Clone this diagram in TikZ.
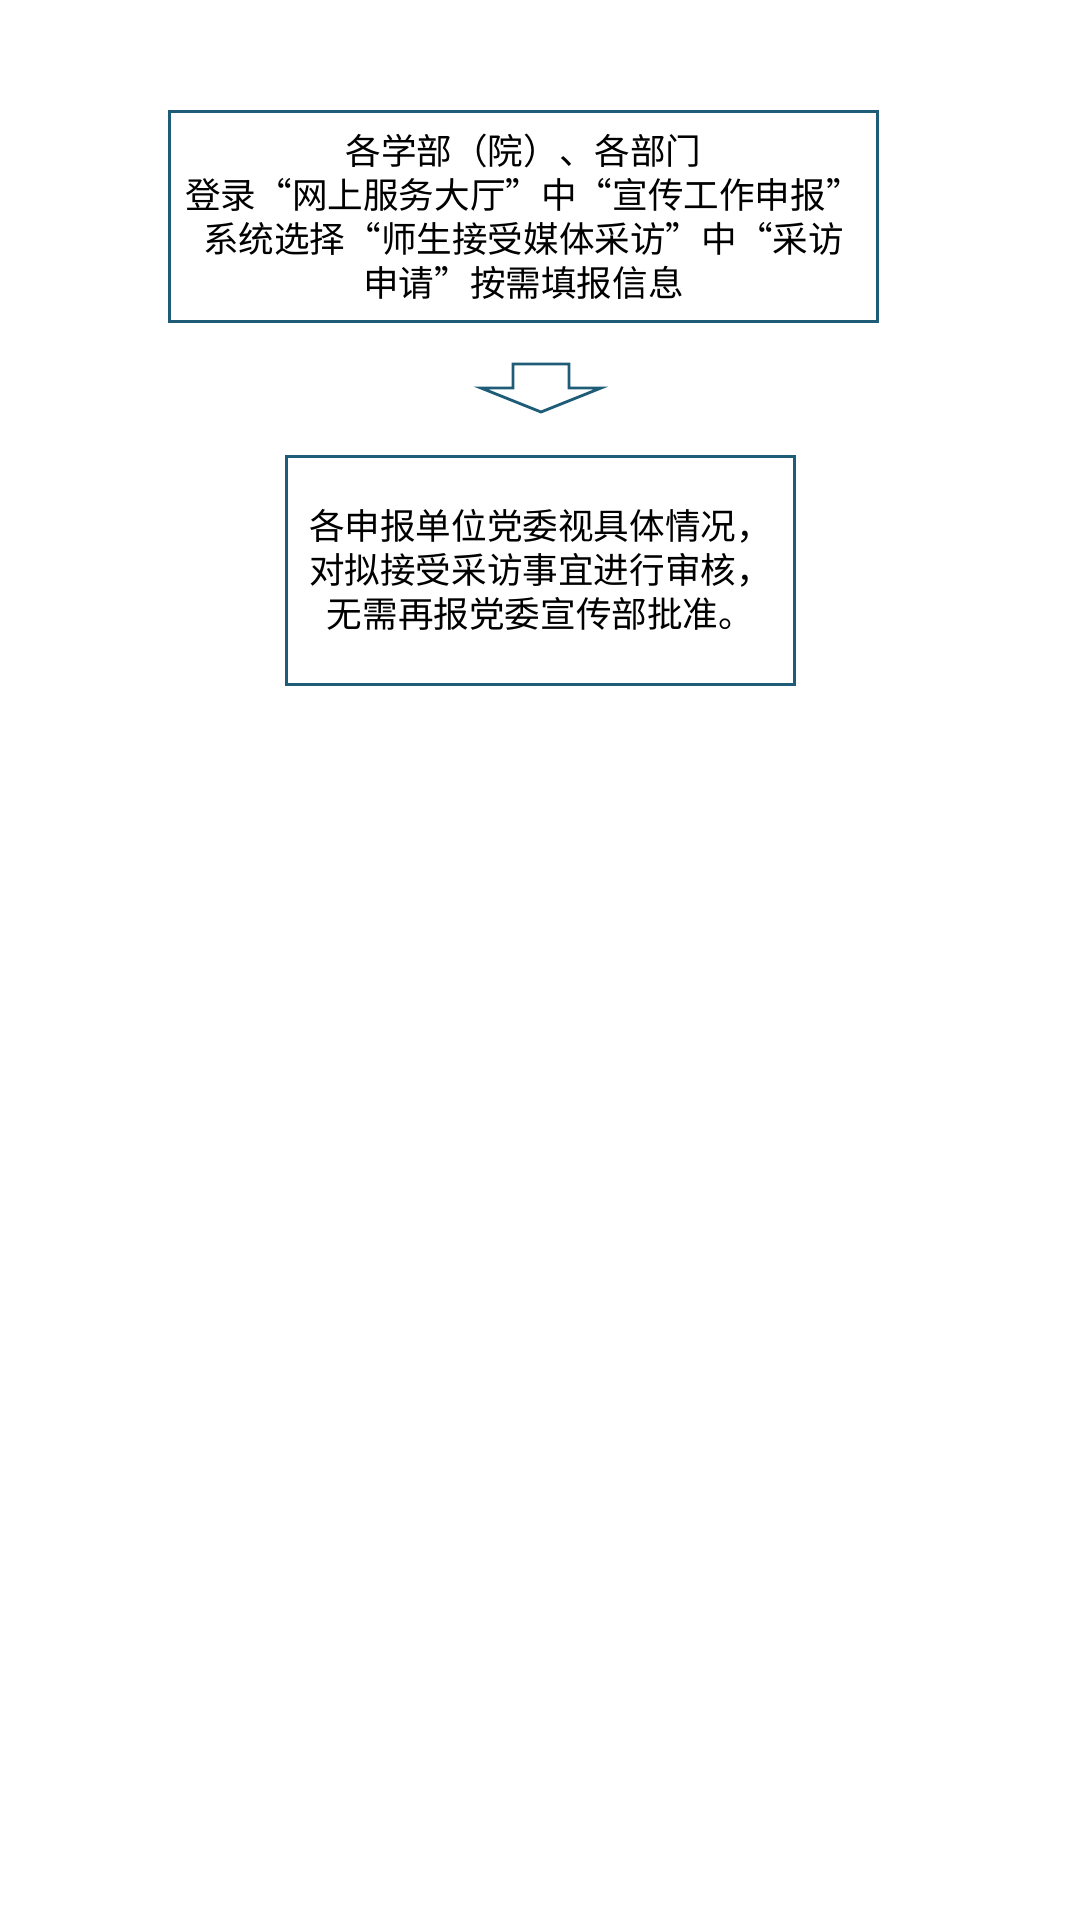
\documentclass[tikz,border=0pt]{standalone}
\usepackage{fontspec}
\newfontfamily\cjk{Noto Sans CJK SC}
\definecolor{boxline}{HTML}{1F5C78}
\begin{document}
\begin{tikzpicture}[x=0.5pt,y=-0.5pt,
  flowbox/.style={draw=boxline,line width=1.5pt,inner sep=0pt,align=center,
    font=\cjk\fontsize{17.8}{22}\selectfont},
  bigarrow/.style={draw=boxline,line width=1.4pt,line join=miter}]
\useasboundingbox[fill=white] (0,0) rectangle (1080,1920);
\node[flowbox,minimum width=354pt,minimum height=105pt] (apply) at (523.5,217)
  {各学部（院）、各部门\\登录“网上服务大厅”中“宣传工作申报”\\系统选择“师生接受媒体采访”中“采访\\申请”按需填报信息};
\node[flowbox,minimum width=254pt,minimum height=114pt] (review) at (540.5,570)
  {各申报单位党委视具体情况，\\对拟接受采访事宜进行审核，\\无需再报党委宣传部批准。};
\draw[bigarrow] (513,364) -- (569,364) -- (569,388) -- (601,388) -- (541,412)
  -- (481,388) -- (513,388) -- cycle;
\end{tikzpicture}
\end{document}
